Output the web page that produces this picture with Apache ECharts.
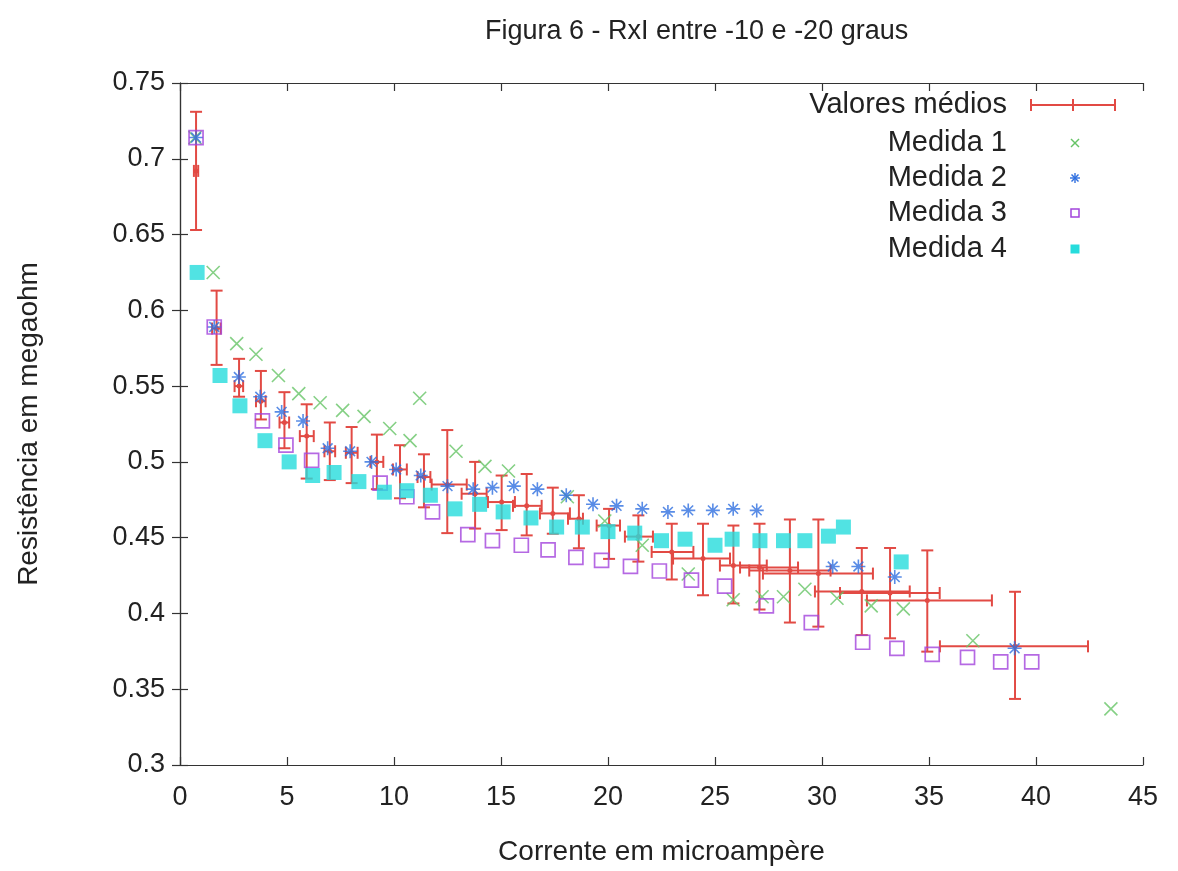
<!DOCTYPE html>
<html>
<head>
<meta charset="utf-8">
<script src="https://cdn.jsdelivr.net/npm/echarts@6/dist/echarts.min.js"></script>
<style>
  html, body { margin: 0; padding: 0; background: #fff; }
  #chart { width: 1178px; height: 871px; }
</style>
</head>
<body>
<div id="chart"></div>
<script>
// Medida 1..4 (x em microampère, y em megaohm)
const m1X = [0.7, 1.55, 2.65, 3.55, 4.6, 5.55, 6.55, 7.6, 8.6, 9.8, 10.75, 11.2, 12.9, 14.25, 15.35, 18.1, 19.85, 21.6, 23.75, 25.85, 27.2, 28.2, 29.2, 30.7, 32.3, 33.8, 37.05, 43.5]
const m1Y = [0.714, 0.625, 0.578, 0.571, 0.557, 0.545, 0.539, 0.534, 0.530, 0.522, 0.514, 0.542, 0.507, 0.497, 0.494, 0.477, 0.461, 0.445, 0.426, 0.409, 0.411, 0.411, 0.416, 0.410, 0.405, 0.403, 0.382, 0.337]

const m2X = [0.75, 1.6, 2.75, 3.75, 4.75, 5.75, 6.9, 7.95, 8.95, 10.1, 11.25, 12.5, 13.7, 14.6, 15.6, 16.7, 18.05, 19.3, 20.4, 21.6, 22.8, 23.75, 24.9, 25.85, 26.95, 30.5, 31.7, 33.4, 39.0]
const m2Y = [0.714, 0.589, 0.556, 0.543, 0.533, 0.527, 0.509, 0.507, 0.500, 0.495, 0.491, 0.484, 0.482, 0.483, 0.484, 0.482, 0.478, 0.472, 0.471, 0.469, 0.467, 0.468, 0.468, 0.469, 0.468, 0.431, 0.431, 0.424, 0.377]

const m3X = [0.75, 1.6, 3.85, 4.95, 6.15, 9.35, 10.6, 11.8, 13.45, 14.6, 15.95, 17.2, 18.5, 19.7, 21.05, 22.4, 23.9, 25.45, 27.4, 29.5, 31.9, 33.5, 35.15, 36.8, 38.35, 39.8]
const m3Y = [0.714, 0.589, 0.527, 0.511, 0.501, 0.486, 0.477, 0.467, 0.452, 0.448, 0.445, 0.442, 0.437, 0.435, 0.431, 0.428, 0.422, 0.418, 0.405, 0.394, 0.381, 0.377, 0.373, 0.371, 0.368, 0.368]

const m4X = [0.8, 1.87, 2.8, 3.97, 5.1, 6.2, 7.2, 8.36, 9.55, 10.6, 11.7, 12.85, 14.0, 15.1, 16.4, 17.6, 18.8, 20.0, 21.25, 22.5, 23.6, 25.0, 25.8, 27.1, 28.2, 29.2, 30.3, 31.0, 33.7]
const m4Y = [0.625, 0.557, 0.537, 0.514, 0.500, 0.491, 0.493, 0.487, 0.480, 0.481, 0.478, 0.469, 0.472, 0.467, 0.463, 0.457, 0.457, 0.454, 0.453, 0.448, 0.449, 0.445, 0.449, 0.448, 0.448, 0.448, 0.451, 0.457, 0.434]

// Valores médios com barras de erro em x e y
const meanX = [0.75, 1.71, 2.76, 3.78, 4.88, 5.92, 7.0, 8.02, 9.2, 10.28, 11.4, 12.49, 13.79, 15.03, 16.2, 17.42, 18.64, 20.05, 21.42, 22.98, 24.44, 25.86, 27.08, 28.5, 29.83, 31.86, 33.18, 34.92, 39.02]
const meanY = [0.692, 0.588, 0.550, 0.540, 0.526, 0.517, 0.507, 0.506, 0.500, 0.495, 0.490, 0.485, 0.479, 0.4735, 0.471, 0.466, 0.4625, 0.458, 0.4507, 0.4406, 0.4362, 0.4316, 0.4303, 0.4283, 0.4263, 0.4145, 0.4135, 0.4086, 0.3783]
const meanXLo = [0.65, 1.5, 2.55, 3.55, 4.65, 5.6, 6.75, 7.75, 8.9, 9.95, 11.1, 11.76, 13.16, 14.39, 15.56, 16.82, 18.13, 19.47, 20.79, 22.04, 23.04, 25.23, 26.17, 26.6, 27.24, 29.67, 30.84, 32.1, 35.51]
const meanXHi = [0.85, 1.9, 2.95, 4.0, 5.1, 6.25, 7.25, 8.3, 9.5, 10.6, 11.7, 13.4, 14.33, 15.65, 16.9, 18.22, 18.83, 20.56, 22.1, 23.99, 25.7, 27.42, 28.88, 30.4, 32.38, 34.1, 35.5, 37.94, 42.43]
const meanYLo = [0.653, 0.564, 0.543, 0.528, 0.509, 0.489, 0.488, 0.486, 0.482, 0.476, 0.470, 0.453, 0.456, 0.455, 0.4515, 0.4526, 0.443, 0.436, 0.4342, 0.4224, 0.412, 0.4066, 0.4026, 0.394, 0.3913, 0.3857, 0.3836, 0.3748, 0.3436]
const meanYHi = [0.731, 0.613, 0.568, 0.560, 0.546, 0.538, 0.526, 0.523, 0.518, 0.511, 0.505, 0.521, 0.500, 0.491, 0.492, 0.483, 0.478, 0.469, 0.4647, 0.4592, 0.4592, 0.458, 0.4592, 0.462, 0.462, 0.4432, 0.4432, 0.4416, 0.4143]

const xTicks = [0, 45, 5]
const yTicks = [0.3, 0.75, 0.05]

const RED = '#e24a44'
const GREEN = '#66c466'
const BLUE = '#2f6fe0'
const PURPLE = '#a244dc'
const CYAN = '#26dcdc'
const FONT = '"Liberation Sans", Arial, sans-serif'
const TXT = '#222'

const zip = (xs, ys) => xs.map((x, i) => [x, ys[i]])
const meanData = meanX.map((x, i) => [x, meanY[i], meanXLo[i], meanXHi[i], meanYLo[i], meanYHi[i]])

const CROSS = 'path://M0,0L10,10M10,0L0,10'
const STAR = 'path://M5,0L5,10M0,5L10,5M1.5,1.5L8.5,8.5M8.5,1.5L1.5,8.5'

const renderErr = (params, api) => {
  const x = api.value(0), y = api.value(1)
  const c = api.coord([x, y])
  const l = api.coord([api.value(2), y])
  const r = api.coord([api.value(3), y])
  const b = api.coord([x, api.value(4)])
  const t = api.coord([x, api.value(5)])
  const cap = 6
  const style = { stroke: RED, lineWidth: 2, fill: null }
  const seg = (x1, y1, x2, y2) => ({ type: 'line', shape: { x1, y1, x2, y2 }, style })
  return {
    type: 'group',
    children: [
      seg(c[0], t[1], c[0], b[1]),
      seg(c[0] - cap, t[1], c[0] + cap, t[1]),
      seg(c[0] - cap, b[1], c[0] + cap, b[1]),
      seg(l[0], c[1], r[0], c[1]),
      seg(l[0], c[1] - cap, l[0], c[1] + cap),
      seg(r[0], c[1] - cap, r[0], c[1] + cap),
      { type: 'circle', shape: { cx: c[0], cy: c[1], r: 2.5 }, style: { fill: RED } }
    ]
  }
}

const axisCommon = {
  type: 'value',
  axisLine: { show: true, lineStyle: { color: '#333', width: 1.2 } },
  axisTick: { show: true, inside: true, length: 8, lineStyle: { color: '#333', width: 1.2 } },
  splitLine: { show: false }
}

// legend drawn at fixed spots, like gnuplot's key
const legX = 1007
const legSym = 1075
const legRows = [105, 143, 178, 213, 249]
const legNames = ['Valores médios', 'Medida 1', 'Medida 2', 'Medida 3', 'Medida 4']
const ln = (x1, y1, x2, y2, color, w) => ({ type: 'line', shape: { x1, y1, x2, y2 }, style: { stroke: color, lineWidth: w || 1.5 } })

const legend = legNames.map((name, i) => ({
  type: 'text', x: legX, y: legRows[i],
  style: { text: name, fill: TXT, font: '29px ' + FONT, textAlign: 'right', textVerticalAlign: 'middle' }
}))
const r0 = legRows[0]
legend.push(
  ln(1031, r0, 1115, r0, RED, 2), ln(1031, r0 - 6, 1031, r0 + 6, RED, 2),
  ln(1115, r0 - 6, 1115, r0 + 6, RED, 2), ln(1073, r0 - 6, 1073, r0 + 6, RED, 2),
  ln(legSym - 4, legRows[1] - 4, legSym + 4, legRows[1] + 4, GREEN, 1.4),
  ln(legSym + 4, legRows[1] - 4, legSym - 4, legRows[1] + 4, GREEN, 1.4),
  ln(legSym, legRows[2] - 5, legSym, legRows[2] + 5, BLUE, 1.4),
  ln(legSym - 5, legRows[2], legSym + 5, legRows[2], BLUE, 1.4),
  ln(legSym - 3.5, legRows[2] - 3.5, legSym + 3.5, legRows[2] + 3.5, BLUE, 1.4),
  ln(legSym + 3.5, legRows[2] - 3.5, legSym - 3.5, legRows[2] + 3.5, BLUE, 1.4),
  { type: 'rect', shape: { x: legSym - 4, y: legRows[3] - 4, width: 8, height: 8 }, style: { fill: null, stroke: PURPLE, lineWidth: 1.5 } },
  { type: 'rect', shape: { x: legSym - 4.5, y: legRows[4] - 4.5, width: 9, height: 9 }, style: { fill: CYAN } }
)

const chart = echarts.init(document.getElementById('chart'))
chart.setOption({
  backgroundColor: '#fff',
  animation: false,
  title: {
    text: 'Figura 6 - RxI entre -10 e -20 graus',
    left: 480, top: 13,
    textStyle: { fontFamily: FONT, fontSize: 27, fontWeight: 'normal', color: TXT }
  },
  grid: { left: 180, right: 35, top: 83, bottom: 104 },
  xAxis: [
    Object.assign({}, axisCommon, {
      min: xTicks[0], max: xTicks[1], interval: xTicks[2],
      name: 'Corrente em microampère', nameLocation: 'middle', nameGap: 73,
      nameTextStyle: { fontFamily: FONT, fontSize: 28, color: TXT },
      axisLabel: { margin: 19, fontFamily: FONT, fontSize: 27, color: TXT }
    }),
    Object.assign({}, axisCommon, {
      position: 'top', min: xTicks[0], max: xTicks[1], interval: xTicks[2],
      axisLabel: { show: false }
    })
  ],
  yAxis: [
    Object.assign({}, axisCommon, {
      min: yTicks[0], max: yTicks[1], interval: yTicks[2],
      name: 'Resistência em megaohm', nameLocation: 'middle', nameGap: 137, nameRotate: 90,
      nameTextStyle: { fontFamily: FONT, fontSize: 28, color: TXT },
      axisLabel: { margin: 15, fontFamily: FONT, fontSize: 27, color: TXT, formatter: v => String(+v.toFixed(2)) }
    }),
    Object.assign({}, axisCommon, {
      position: 'right', min: yTicks[0], max: yTicks[1], interval: yTicks[2],
      axisLabel: { show: false }
    })
  ],
  graphic: legend,
  series: [
    {
      name: 'Valores médios', type: 'custom', renderItem: renderErr,
      encode: { x: 0, y: 1 }, data: meanData, z: 1
    },
    {
      name: 'Medida 1', type: 'scatter', data: zip(m1X, m1Y), z: 2,
      symbol: CROSS, symbolSize: 13,
      itemStyle: { color: 'rgba(0,0,0,0)', borderColor: GREEN, borderWidth: 1.6 }
    },
    {
      name: 'Medida 2', type: 'scatter', data: zip(m2X, m2Y), z: 3,
      symbol: STAR, symbolSize: 14,
      itemStyle: { color: 'rgba(0,0,0,0)', borderColor: BLUE, borderWidth: 1.6 }
    },
    {
      name: 'Medida 3', type: 'scatter', data: zip(m3X, m3Y), z: 4,
      symbol: 'rect', symbolSize: 14,
      itemStyle: { color: 'rgba(0,0,0,0)', borderColor: PURPLE, borderWidth: 1.7 }
    },
    {
      name: 'Medida 4', type: 'scatter', data: zip(m4X, m4Y), z: 5,
      symbol: 'rect', symbolSize: 15,
      itemStyle: { color: CYAN }
    }
  ]
})
</script>
</body>
</html>
